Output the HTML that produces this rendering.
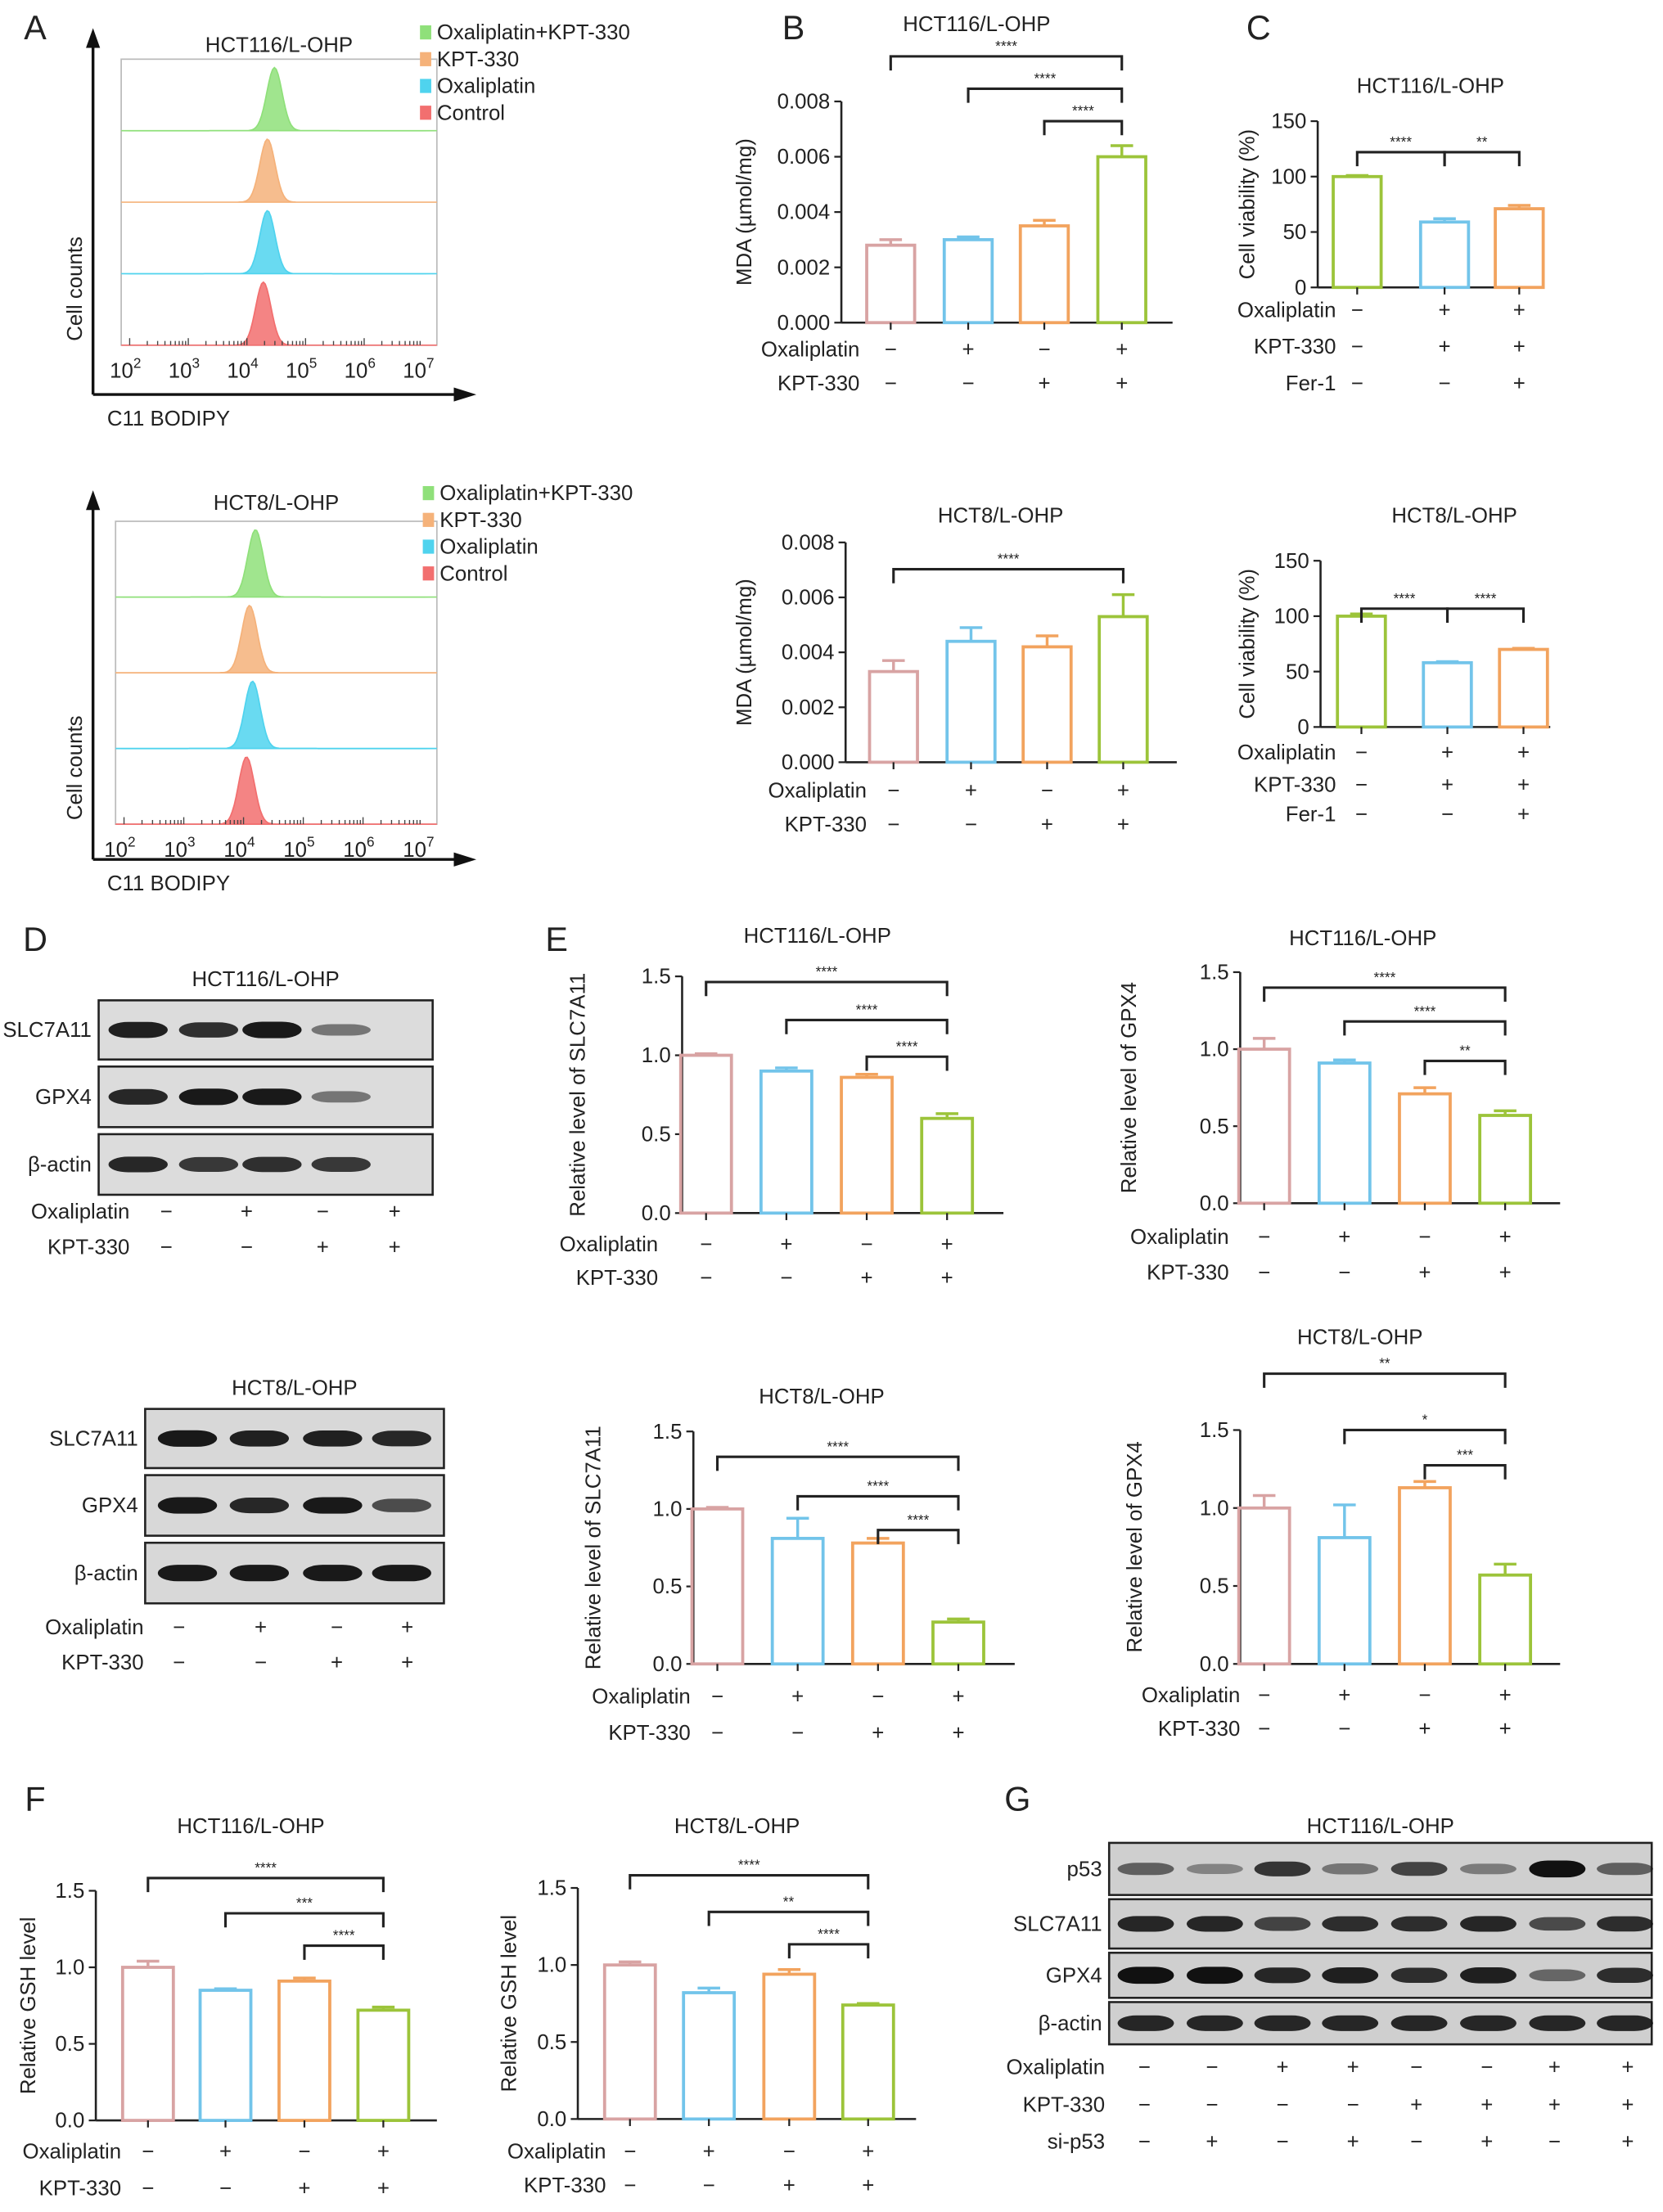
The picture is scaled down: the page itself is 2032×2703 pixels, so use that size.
<!DOCTYPE html>
<html><head><meta charset="utf-8"><style>
html,body{margin:0;padding:0;background:#fff}
svg{display:block}
text{font-family:"Liberation Sans",sans-serif;fill:#222}
</style></head><body>
<svg id="fig" xmlns="http://www.w3.org/2000/svg" width="2032" height="2703" viewBox="0 0 1180 1570" preserveAspectRatio="none">
<g id="root"></g>
</svg>
<script>
// ---------- data ----------
const barColors = ["#d8a3a3","#72c4ea","#f2a35e","#9cc43a"];
const barColors3 = ["#9cc43a","#72c4ea","#f2a35e"];
const mdaTicks = ["0.000","0.002","0.004","0.006","0.008"];
const cvTicks = ["0","50","100","150"];
const relTicks = ["0.0","0.5","1.0","1.5"];
const mda116Values = [0.0028,0.0030,0.0035,0.0060];
const mda116Err = [0.0002,0.0001,0.0002,0.0004];
const mda8Values = [0.0033,0.0044,0.0042,0.0053];
const mda8Err = [0.0004,0.0005,0.0004,0.0008];
const cv116Values = [100,59,71];
const cv116Err = [1,3,3];
const cv8Values = [100,58,70];
const cv8Err = [2,1,1];
const slc116Values = [1.0,0.90,0.86,0.60];
const slc116Err = [0.01,0.02,0.02,0.03];
const gpx116Values = [1.0,0.91,0.71,0.57];
const gpx116Err = [0.07,0.02,0.04,0.03];
const slc8Values = [1.0,0.81,0.78,0.27];
const slc8Err = [0.01,0.13,0.03,0.02];
const gpx8Values = [1.0,0.81,1.13,0.57];
const gpx8Err = [0.08,0.21,0.04,0.07];
const gsh116Values = [1.0,0.85,0.91,0.72];
const gsh116Err = [0.04,0.01,0.02,0.02];
const gsh8Values = [1.0,0.82,0.94,0.74];
const gsh8Err = [0.02,0.03,0.03,0.01];
const histLegend = ["Oxaliplatin+KPT-330","KPT-330","Oxaliplatin","Control"];
const histColors = ["#8fe07a","#f5b27a","#4fd3ee","#f26f6f"];
const hist116Peaks = [4.47,4.35,4.35,4.28];
const hist8Peaks = [4.2,4.1,4.15,4.05];
const decadeLabels = ["2","3","4","5","6","7"];

const root = document.getElementById('root');
const NS = "http://www.w3.org/2000/svg";
function el(tag, attrs, parent){const e=document.createElementNS(NS,tag);for(const k in attrs)e.setAttribute(k,attrs[k]);(parent||root).appendChild(e);return e;}
function txt(x,y,s,size,anchor,parent,extra){const t=el('text',Object.assign({x:x,y:y,'font-size':size,'text-anchor':anchor||'middle'},extra||{}),parent);t.textContent=s;return t;}

function barChart(o){
  const g=el('g',{});
  
  
  const ys=v=>o.y0-(v/o.ymax)*(o.y0-o.ytop);
  const tt=txt(o.titleX,o.titleY,o.title,15,'middle',g);
  
  
  el('line',{x1:o.ax,y1:o.y0,x2:o.ax,y2:o.ytop,stroke:'#222','stroke-width':1.5},g);
  el('line',{x1:o.ax,y1:o.y0,x2:o.axEnd,y2:o.y0,stroke:'#222','stroke-width':1.5},g);
  o.ticks.forEach((lab,i)=>{
    const v=o.ymax*i/(o.ticks.length-1);const y=ys(v);
    el('line',{x1:o.ax-5,y1:y,x2:o.ax,y2:y,stroke:'#222','stroke-width':1.3},g);
    const t=txt(o.ax-8,y+5,lab,15,'end',g);
    
    
  });
  const yt=txt(0,0,o.ytitle,15,'middle',g,{transform:`translate(${o.ytx},${(o.y0+o.ytop)/2}) rotate(-90)`});
  
  
  o.values.forEach((v,i)=>{
    const cx=o.xs[i], w=o.bw, top=ys(v), c=o.colors[i];
    const b=el('rect',{x:cx-w/2,y:top,width:w,height:o.y0-top,fill:'none',stroke:c,'stroke-width':2.2},g);
    
    
    const et=ys(v+o.err[i]);
    el('line',{x1:cx,y1:top,x2:cx,y2:et,stroke:c,'stroke-width':2},g);
    el('line',{x1:cx-8,y1:et,x2:cx+8,y2:et,stroke:c,'stroke-width':2},g);
    el('line',{x1:cx,y1:o.y0,x2:cx,y2:o.y0+5,stroke:'#222','stroke-width':1.3},g);
  });
  (o.brackets||[]).forEach(b=>{
    const x1=o.xs[b[0]],x2=o.xs[b[1]],y=b[2];
    el('path',{d:`M${x1},${y+10}V${y}H${x2}V${y+10}`,fill:'none',stroke:'#222','stroke-width':1.8},g);
    const s=txt((x1+x2)/2,y-4,b[3],10,'middle',g);
    
    
  });
  signRows(g,o.rows,o.xs,o.labelX);
}
function signRows(g,rows,xs,labelX){
  rows.forEach(r=>{
    const l=txt(labelX,r.y+5,r.label,15,'end',g);
    
    
    r.signs.forEach((s,i)=>{txt(xs[i],r.y+5,s==='+'?'+':'−',15,'middle',g);});
  });
}
const oxRow4=['-','+','-','+'], kptRow4=['-','-','+','+'];

[["A",25,28],["B",563,28],["C",893,28],["D",25,675],["E",395,675],["F",25,1285],["G",722,1285]].forEach(p=>{
  const t=txt(p[1],p[2],p[0],24,'middle');
  
  
});

function histo(o){
  const g=el('g',{});
  
  
  txt((o.x1+o.x2)/2,o.titleY,o.title,15,'middle',g);
  el('rect',{x:o.x1,y:o.y1,width:o.x2-o.x1,height:o.y2-o.y1,fill:'none',stroke:'#bbb','stroke-width':1},g);
  const rh=(o.y2-o.y1)/4;
  const lx=v=>o.x1+6+(v-2)*((o.x2-o.x1-16)/5);
  o.peaks.forEach((p,i)=>{
    const base=o.y1+rh*(i+1);
    let d=`M${o.x1},${base}`;
    for(let k=0;k<=160;k++){const v=2+5*k/160;const x=lx(v);const z=(v-p)/0.13;const h=Math.exp(-z*z/2)*(rh-6);d+=`L${x.toFixed(1)},${(base-h).toFixed(1)}`;}
    d+=`L${o.x2},${base}Z`;
    const pk=el('path',{d:d,fill:histColors[i],stroke:histColors[i],'stroke-width':1,'fill-opacity':0.85},g);
    
    
  });
  for(let d=2;d<7;d++){for(let m=1;m<10;m++){const x=lx(d+Math.log10(m));el('line',{x1:x,y1:o.y2,x2:x,y2:o.y2-(m===1?5:3),stroke:'#444','stroke-width':0.8},g);}}
  decadeLabels.forEach(dl=>{const x=lx(+dl);const t=txt(x-3,o.y2+23,'10',15,'middle',g);el('tspan',{dy:-7,'font-size':10},t).textContent=dl;});
  el('line',{x1:o.ax,y1:o.ay,x2:o.ax,y2:o.y1-12,stroke:'#111','stroke-width':2},g);
  el('path',{d:`M${o.ax-5},${o.y1-8}L${o.ax},${o.y1-22}L${o.ax+5},${o.y1-8}Z`,fill:'#111'},g);
  el('line',{x1:o.ax,y1:o.ay,x2:o.x2+15,y2:o.ay,stroke:'#111','stroke-width':2},g);
  el('path',{d:`M${o.x2+12},${o.ay-5}L${o.x2+28},${o.ay}L${o.x2+12},${o.ay+5}Z`,fill:'#111'},g);
  txt(0,0,'Cell counts',15,'middle',g,{transform:`translate(${o.ax-8},${o.y2-40}) rotate(-90)`});
  txt(o.ax+10,o.ay+22,'C11 BODIPY',15,'start',g);
  histLegend.forEach((s,i)=>{
    const y=o.legY+i*19;
    el('rect',{x:o.legX,y:y-10,width:8,height:10,fill:histColors[i]},g);
    const t=txt(o.legX+12,y,s,15,'start',g);
    
    
  });
}
histo({name:'flow-hct116',title:'HCT116/L-OHP',titleY:37,x1:86,x2:310,y1:42,y2:245,ax:66,ay:280,peaks:hist116Peaks,legX:298,legY:28});
histo({name:'flow-hct8',title:'HCT8/L-OHP',titleY:362,x1:82,x2:310,y1:370,y2:585,ax:66,ay:610,peaks:hist8Peaks,legX:300,legY:355});

barChart({name:'mda-hct116',title:'HCT116/L-OHP',titleX:693,titleY:22,ax:597,axEnd:832,y0:229,ytop:72,ymax:0.008,ticks:mdaTicks,ytitle:'MDA (µmol/mg)',ytx:533,
  xs:[632,687,741,796],bw:34,values:mda116Values,err:mda116Err,colors:barColors,
  brackets:[[0,3,40,'****'],[1,3,63,'****'],[2,3,86,'****']],
  rows:[{y:248,label:'Oxaliplatin',signs:oxRow4},{y:272,label:'KPT-330',signs:kptRow4}],labelX:610});
barChart({name:'mda-hct8',title:'HCT8/L-OHP',titleX:710,titleY:371,ax:600,axEnd:835,y0:541,ytop:385,ymax:0.008,ticks:mdaTicks,ytitle:'MDA (µmol/mg)',ytx:533,
  xs:[634,689,743,797],bw:34,values:mda8Values,err:mda8Err,colors:barColors,
  brackets:[[0,3,404,'****']],
  rows:[{y:561,label:'Oxaliplatin',signs:oxRow4},{y:585,label:'KPT-330',signs:kptRow4}],labelX:615});

barChart({name:'viability-hct116',title:'HCT116/L-OHP',titleX:1015,titleY:66,ax:935,axEnd:1095,y0:204,ytop:86,ymax:150,ticks:cvTicks,ytitle:'Cell viability (%)',ytx:890,
  xs:[963,1025,1078],bw:34,values:cv116Values,err:cv116Err,colors:barColors3,
  brackets:[[0,1,108,'****'],[1,2,108,'**']],
  rows:[{y:220,label:'Oxaliplatin',signs:['-','+','+']},{y:246,label:'KPT-330',signs:['-','+','+']},{y:272,label:'Fer-1',signs:['-','-','+']}],labelX:948});
barChart({name:'viability-hct8',title:'HCT8/L-OHP',titleX:1032,titleY:371,ax:937,axEnd:1100,y0:516,ytop:398,ymax:150,ticks:cvTicks,ytitle:'Cell viability (%)',ytx:890,
  xs:[966,1027,1081],bw:34,values:cv8Values,err:cv8Err,colors:barColors3,
  brackets:[[0,1,432,'****'],[1,2,432,'****']],
  rows:[{y:534,label:'Oxaliplatin',signs:['-','+','+']},{y:557,label:'KPT-330',signs:['-','+','+']},{y:578,label:'Fer-1',signs:['-','-','+']}],labelX:948});

const eRows=(y1,y2)=>[{y:y1,label:'Oxaliplatin',signs:oxRow4},{y:y2,label:'KPT-330',signs:kptRow4}];
barChart({name:'slc7a11-hct116',title:'HCT116/L-OHP',titleX:580,titleY:669,ax:484,axEnd:712,y0:861,ytop:693,ymax:1.5,ticks:relTicks,ytitle:'Relative level of SLC7A11',ytx:415,
  xs:[501,558,615,672],bw:36,values:slc116Values,err:slc116Err,colors:barColors,
  brackets:[[0,3,697,'****'],[1,3,724,'****'],[2,3,750,'****']],rows:eRows(883,907),labelX:467});
barChart({name:'gpx4-hct116',title:'HCT116/L-OHP',titleX:967,titleY:671,ax:880,axEnd:1107,y0:854,ytop:690,ymax:1.5,ticks:relTicks,ytitle:'Relative level of GPX4',ytx:806,
  xs:[897,954,1011,1068],bw:36,values:gpx116Values,err:gpx116Err,colors:barColors,
  brackets:[[0,3,701,'****'],[1,3,725,'****'],[2,3,753,'**']],rows:eRows(878,903),labelX:872});
barChart({name:'slc7a11-hct8',title:'HCT8/L-OHP',titleX:583,titleY:996,ax:492,axEnd:720,y0:1181,ytop:1016,ymax:1.5,ticks:relTicks,ytitle:'Relative level of SLC7A11',ytx:426,
  xs:[509,566,623,680],bw:36,values:slc8Values,err:slc8Err,colors:barColors,
  brackets:[[0,3,1034,'****'],[1,3,1062,'****'],[2,3,1086,'****']],rows:eRows(1204,1230),labelX:490});
barChart({name:'gpx4-hct8',title:'HCT8/L-OHP',titleX:965,titleY:954,ax:880,axEnd:1107,y0:1181,ytop:1015,ymax:1.5,ticks:relTicks,ytitle:'Relative level of GPX4',ytx:810,
  xs:[897,954,1011,1068],bw:36,values:gpx8Values,err:gpx8Err,colors:barColors,
  brackets:[[0,3,975,'**'],[1,3,1015,'*'],[2,3,1040,'***']],rows:eRows(1203,1227),labelX:880});

barChart({name:'gsh-hct116',title:'HCT116/L-OHP',titleX:178,titleY:1301,ax:68,axEnd:310,y0:1505,ytop:1342,ymax:1.5,ticks:relTicks,ytitle:'Relative GSH level',ytx:25,
  xs:[105,160,216,272],bw:36,values:gsh116Values,err:gsh116Err,colors:barColors,
  brackets:[[0,3,1333,'****'],[1,3,1358,'***'],[2,3,1381,'****']],rows:eRows(1527,1553),labelX:86});
barChart({name:'gsh-hct8',title:'HCT8/L-OHP',titleX:523,titleY:1301,ax:410,axEnd:650,y0:1504,ytop:1340,ymax:1.5,ticks:relTicks,ytitle:'Relative GSH level',ytx:366,
  xs:[447,503,560,616],bw:36,values:gsh8Values,err:gsh8Err,colors:barColors,
  brackets:[[0,3,1331,'****'],[1,3,1357,'**'],[2,3,1380,'****']],rows:eRows(1527,1551),labelX:430});

const d116Bands={SLC7A11:[0.9,0.8,0.95,0.35],GPX4:[0.85,0.95,0.95,0.35],'β-actin':[0.85,0.75,0.8,0.75]};
const d8Bands={SLC7A11:[0.95,0.9,0.9,0.85],GPX4:[0.95,0.85,0.95,0.6],'β-actin':[0.95,0.95,0.95,0.95]};
const gBands={p53:[0.45,0.2,0.75,0.3,0.65,0.25,1,0.45],SLC7A11:[0.85,0.85,0.65,0.8,0.8,0.85,0.6,0.8],GPX4:[1,1,0.85,0.9,0.8,0.9,0.4,0.8],'β-actin':[0.85,0.85,0.85,0.85,0.85,0.85,0.85,0.85]};
function blot(o){
  const g=el('g',{});
  
  
  txt((o.x1+o.x2)/2,o.titleY,o.title,15,'middle',g);
  Object.keys(o.bands).forEach((k,r)=>{
    const [y1,y2]=o.rowsY[r];
    el('rect',{x:o.x1,y:y1,width:o.x2-o.x1,height:y2-y1,fill:o.bg,stroke:'#222','stroke-width':1.5},g);
    const l=txt(o.x1-5,(y1+y2)/2+5,k,15,'end',g);
    
    
    o.bands[k].forEach((v,i)=>{
      const h=6+6*v;
      const e=el('rect',{x:o.lanes[i]-o.bw/2,y:(y1+y2)/2-h/2,width:o.bw,height:h,rx:o.bw/3,ry:h/2,fill:'#111','fill-opacity':(0.25+0.75*v).toFixed(2)},g);
      
      
    });
  });
  signRows(g,o.rows,o.signX,o.labelX);
}
blot({name:'blot-d-hct116',title:'HCT116/L-OHP',titleY:700,x1:70,x2:307,bg:'#dcdcdc',rowsY:[[710,752],[757,800],[805,848]],lanes:[98,148,193,242],bw:42,bands:d116Bands,
  signX:[118,175,229,280],labelX:92,rows:[{y:860,label:'Oxaliplatin',signs:oxRow4},{y:885,label:'KPT-330',signs:kptRow4}]});
blot({name:'blot-d-hct8',title:'HCT8/L-OHP',titleY:990,x1:103,x2:315,bg:'#d8d8d8',rowsY:[[1000,1042],[1047,1090],[1095,1138]],lanes:[133,184,236,285],bw:42,bands:d8Bands,
  signX:[127,185,239,289],labelX:102,rows:[{y:1155,label:'Oxaliplatin',signs:oxRow4},{y:1180,label:'KPT-330',signs:kptRow4}]});
blot({name:'blot-g-hct116',title:'HCT116/L-OHP',titleY:1301,x1:787,x2:1172,bg:'#cfcfcf',rowsY:[[1308,1345],[1348,1383],[1386,1418],[1421,1451]],lanes:[813,862,910,958,1007,1056,1105,1153],bw:40,bands:gBands,
  signX:[812,860,910,960,1005,1055,1103,1155],labelX:784,rows:[
    {y:1467,label:'Oxaliplatin',signs:['-','-','+','+','-','-','+','+']},
    {y:1494,label:'KPT-330',signs:['-','-','-','-','+','+','+','+']},
    {y:1520,label:'si-p53',signs:['-','+','-','+','-','+','-','+']}]});
</script>
</body></html>
